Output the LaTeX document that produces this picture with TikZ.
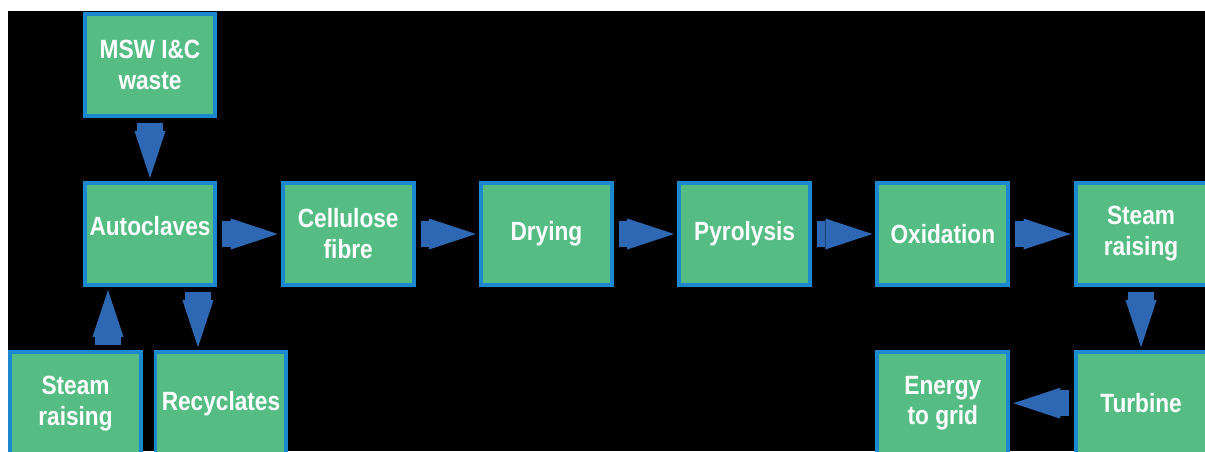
\documentclass[tikz,border=0pt]{standalone}
\usepackage{fontspec}
\newfontfamily\boxfont{Liberation Sans}[FakeStretch=0.86]
\usepackage{tikz}
\usetikzlibrary{
  positioning,
  arrows.meta
}
\definecolor{boxgreen}{RGB}{85,189,132}
\definecolor{boxblue}{RGB}{28,136,208}
\definecolor{arrowblue}{RGB}{46,104,180}
\tikzset{
  stage/.style={rectangle, draw=boxblue, line width=0.08cm, fill=boxgreen,
    minimum width=2.62cm, minimum height=2.04cm, inner sep=0pt, align=center,
    text=white, font=\boxfont\bfseries\fontsize{15pt}{17.6pt}\selectfont},
  flow/.style={->, draw=arrowblue, line width=0.52cm, shorten <=0.1cm, shorten >=0.06cm}
}

\begin{document}
\begin{tikzpicture}[x=0.02cm,y=-0.02cm,node distance=1.265cm,>={Triangle[length=0.94cm,width=0.62cm,line width=0pt]}]
        \fill[white] (0,0) rectangle (1205,451);
        \useasboundingbox (0,0) rectangle (1205,451);
        \clip (0,0) rectangle (1205,451);
        \fill[black] (8,11) rectangle (1205,451);

        % main line
        \node[stage, text depth=0.32cm] (auto) at (150,234) {Autoclaves};
        \node[stage, above=of auto] (msw) {MSW I\&C\\waste};
        \node[stage, right=of auto] (cell) {Cellulose\\fibre};
        \node[stage, right=of cell] (dry) {Drying};
        \node[stage, right=of dry] (pyro) {Pyrolysis};
        \node[stage, right=of pyro] (oxid) {Oxidation};
        \node[stage, right=of oxid] (steamB) {Steam\\raising};

        % lower row
        \node[stage, below=of auto, xshift=-1.49cm] (steamA) {Steam\\raising};
        \node[stage, below=of auto, xshift=1.42cm] (recyc) {Recyclates};
        \node[stage, below=of oxid] (grid) {Energy\\to grid};
        \node[stage, below=of steamB] (turb) {Turbine};

        \draw[flow] (msw) -- (auto);
        \draw[flow] (auto) -- (cell);
        \draw[flow] (cell) -- (dry);
        \draw[flow] (dry) -- (pyro);
        \draw[flow] (pyro) -- (oxid);
        \draw[flow] (oxid) -- (steamB);
        \draw[flow] (steamB) -- (turb);
        \draw[flow] (turb) -- (grid);
        \draw[flow] ([xshift=0.96cm]auto.south) -- ([xshift=0.96cm]auto.south |- recyc.north);
        \draw[flow] ([xshift=-0.84cm]auto.south |- steamA.north) -- ([xshift=-0.84cm]auto.south);
    \end{tikzpicture}
\end{document}
